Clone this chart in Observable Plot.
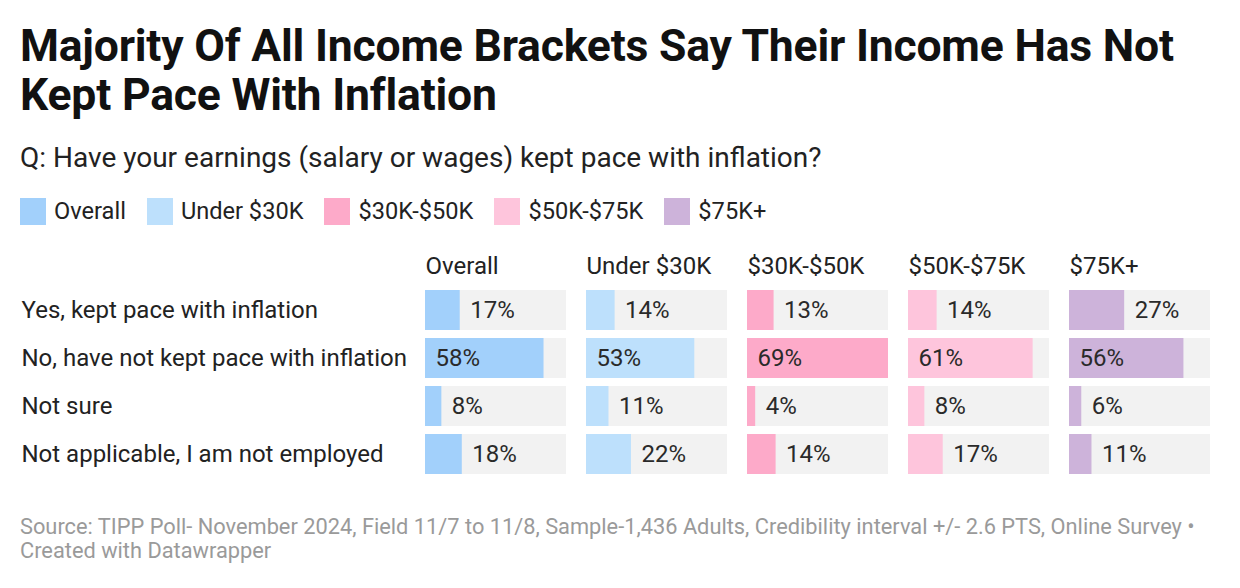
<!DOCTYPE html>
<html>
<head>
<meta charset="utf-8">
<script src="https://cdn.jsdelivr.net/npm/d3@7"></script>
<script src="https://cdn.jsdelivr.net/npm/@observablehq/plot@0.6"></script>
<style>
  html, body { margin: 0; padding: 0; background: #fff; }
  body { width: 1240px; height: 588px; overflow: hidden; font-family: Roboto, "Noto Sans", sans-serif; color: #1d1d1d; }
  #wrap { padding: 0 20px; }
  h1 { margin: 22px 0 0 0; font-size: 44.5px; line-height: 49px; font-weight: 700; color: #111; letter-spacing: -0.2px; white-space: nowrap; }
  .sub { margin-top: 23px; font-size: 28px; line-height: 30px; color: #222; white-space: nowrap; }
  .legend { display: flex; margin-top: 24px; height: 28px; align-items: center; font-size: 23.6px; color: #222; }
  .legend .item { display: flex; align-items: center; margin-right: 21px; }
  .legend .sw { width: 26px; height: 27px; margin-right: 8px; }
  #chart { position: absolute; left: 0; top: 240px; }
  .foot { position: absolute; left: 20px; top: 515px; font-size: 21.8px; line-height: 24px; color: #9a9a9a; white-space: nowrap; }
</style>
</head>
<body>
<div id="wrap">
  <h1>Majority Of All Income Brackets Say Their Income Has Not<br>Kept Pace With Inflation</h1>
  <div class="sub">Q: Have your earnings (salary or wages) kept pace with inflation?</div>
  <div class="legend" id="legend"></div>
</div>
<div id="chart"></div>
<div class="foot">Source: TIPP Poll- November 2024, Field 11/7 to 11/8, Sample-1,436 Adults, Credibility interval +/- 2.6 PTS, Online Survey •<br>Created with Datawrapper</div>
<script>
const groups = ["Overall", "Under $30K", "$30K-$50K", "$50K-$75K", "$75K+"];
const answers = ["Yes, kept pace with inflation", "No, have not kept pace with inflation", "Not sure", "Not applicable, I am not employed"];
const overall = [17, 58, 8, 18];
const under30 = [14, 53, 11, 22];
const k30to50 = [13, 69, 4, 14];
const k50to75 = [14, 61, 8, 17];
const k75plus = [27, 56, 6, 11];
const colors = ["#a2d0fb", "#bde0fc", "#fdaac9", "#fec5dc", "#cdb3da"];

const series = [overall, under30, k30to50, k50to75, k75plus];
const data = [];
groups.forEach((g, gi) => answers.forEach((a, ai) => data.push({group: g, answer: a, value: series[gi][ai]})));
const maxV = d3.max(data, d => d.value);
const bg = [];
groups.forEach(g => answers.forEach(a => bg.push({group: g, answer: a})));

// legend
const leg = document.getElementById("legend");
groups.forEach((g, i) => {
  const it = document.createElement("div");
  it.className = "item";
  it.innerHTML = `<span class="sw" style="background:${colors[i]}"></span><span>${g}</span>`;
  leg.appendChild(it);
});

const chart = Plot.plot({
  width: 1240,
  height: 240,
  marginLeft: 424,
  marginRight: 28,
  marginTop: 50,
  marginBottom: 6,
  style: {fontFamily: "Roboto, 'Noto Sans', sans-serif", background: "transparent"},
  fx: {domain: groups, paddingInner: 0.123, paddingOuter: 0, axis: null},
  x: {domain: [0, maxV], axis: null},
  y: {domain: answers, paddingInner: 0.1667, paddingOuter: 0, axis: null},
  color: {domain: groups, range: colors},
  marks: [
    Plot.barX(bg, {fx: "group", y: "answer", x1: 0, x2: maxV, fill: "#f2f2f2"}),
    Plot.barX(data, {fx: "group", y: "answer", x1: 0, x2: "value", fill: "group"}),
    Plot.text(data, {fx: "group", y: "answer", x: d => d.value >= 50 ? 0 : d.value, text: d => d.value + "%",
      textAnchor: "start", dx: 10, fontSize: 24, fill: "#2a2a2a"}),
    Plot.text(groups, {fx: d => d, text: d => d, frameAnchor: "top-left", textAnchor: "start", dy: -34,
      fontSize: 24, fill: "#222"}),
    Plot.text(answers, {fx: () => groups[0], y: d => d, text: d => d, frameAnchor: "left", textAnchor: "start",
      dx: -404, fontSize: 24, fill: "#222"})
  ]
});
document.getElementById("chart").appendChild(chart);
</script>
</body>
</html>
